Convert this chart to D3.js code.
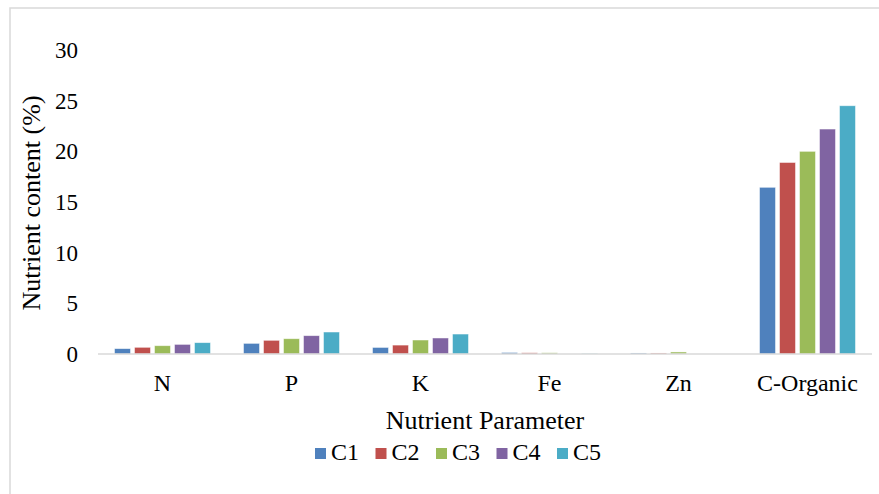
<!DOCTYPE html>
<html>
<head>
<meta charset="utf-8">
<script src="https://cdn.jsdelivr.net/npm/d3@7"></script>
</head>
<body style="margin:0">
<svg id="chart" width="879" height="494"></svg>
<script>
// DATA ----------------------------------------
const categories = ['N', 'P', 'K', 'Fe', 'Zn', 'C-Organic'];
const series = ['C1', 'C2', 'C3', 'C4', 'C5'];
const colors = ['#4F81BD', '#C0504D', '#9BBB59', '#8064A2', '#4BACC6'];
const c1 = [0.53, 1.05, 0.65, 0.15, 0.10, 16.45];
const c2 = [0.66, 1.35, 0.88, 0.12, 0.10, 18.9];
const c3 = [0.82, 1.51, 1.38, 0.12, 0.20, 20.0];
const c4 = [0.95, 1.81, 1.58, 0.00, 0.00, 22.2];
const c5 = [1.12, 2.17, 1.97, 0.05, 0.00, 24.5];
const yTicks = [0, 5, 10, 15, 20, 25, 30];

const values = [c1, c2, c3, c4, c5];
const data = categories.map((c, i) => ({
	name: c,
	vals: series.map((s, j) => ({key: s, value: values[j][i], color: colors[j]}))
}));

const FONT = '"Liberation Serif"';

// CHART INIT ----------------------------------------
const W = 879, H = 494;
const margin = ({top: 50, right: 7, bottom: 140, left: 98});
const width = W - margin.left - margin.right;
const height = H - margin.top - margin.bottom;

const svg = d3.select('#chart');

// outer chart frame (runs off the right and bottom edges)
svg.append('rect')
	.attr('x', 10).attr('y', 8)
	.attr('width', W + 20).attr('height', H + 20)
	.attr('fill', 'none')
	.attr('stroke', '#d9d9d9')
	.attr('stroke-width', 1.5);

const g = svg.append('g')
	.attr('transform', `translate(${margin.left},${margin.top})`);

const x0 = d3.scaleBand()
	.domain(categories)
	.range([0, width])
	.paddingInner(0.256)
	.paddingOuter(0.128);

const x1 = d3.scaleBand()
	.domain(series)
	.range([0, x0.bandwidth()])
	.paddingInner(0.2);

const y = d3.scaleLinear()
	.domain([0, 30])
	.range([height, 0]);

// bars
const groups = g.selectAll('.group')
	.data(data)
	.enter().append('g')
	.attr('class', 'group')
	.attr('transform', d => `translate(${x0(d.name)},0)`);

groups.selectAll('rect')
	.data(d => d.vals)
	.enter().append('rect')
	.attr('x', d => x1(d.key))
	.attr('y', d => y(d.value))
	.attr('width', x1.bandwidth())
	.attr('height', d => height - y(d.value))
	.attr('fill', d => d.color)
	.attr('stroke', '#fff')
	.attr('stroke-opacity', 0.6)
	.attr('stroke-width', 0.8);

// y axis (labels only)
const yAxis = d3.axisLeft(y)
	.tickValues(yTicks)
	.tickSize(0)
	.tickPadding(0);

const ya = g.append('g')
	.attr('class', 'axis y-axis')
	.attr('transform', 'translate(-20,0)')
	.call(yAxis);
ya.select('.domain').remove();
ya.selectAll('text')
	.style('font-family', FONT)
	.style('font-size', '23px')
	.attr('fill', '#000');

// x axis
const xAxis = d3.axisBottom(x0)
	.tickSize(0)
	.tickPadding(20);

const xa = g.append('g')
	.attr('class', 'axis x-axis')
	.attr('transform', `translate(0,${height})`)
	.call(xAxis);
xa.selectAll('.tick line').remove();
xa.select('.domain')
	.attr('stroke', '#d9d9d9')
	.attr('stroke-width', 1.5)
	.attr('d', `M0,0H${width}`);
xa.selectAll('text')
	.style('font-family', FONT)
	.style('font-size', '24px')
	.attr('fill', '#000');

// axis titles
svg.append('text')
	.attr('transform', 'translate(40,203) rotate(-90)')
	.attr('text-anchor', 'middle')
	.style('font-family', FONT)
	.style('font-size', '26px')
	.text('Nutrient content (%)');

svg.append('text')
	.attr('x', 485)
	.attr('y', 429)
	.attr('text-anchor', 'middle')
	.style('font-family', FONT)
	.style('font-size', '26px')
	.text('Nutrient Parameter');

// legend
const legend = svg.append('g')
	.attr('transform', 'translate(315,448)');

const item = legend.selectAll('.item')
	.data(series)
	.enter().append('g')
	.attr('class', 'item')
	.attr('transform', (d, i) => `translate(${i * 60.5},0)`);

item.append('rect')
	.attr('width', 11).attr('height', 11)
	.attr('fill', (d, i) => colors[i]);

item.append('text')
	.attr('x', 16)
	.attr('y', 12)
	.style('font-family', FONT)
	.style('font-size', '24px')
	.text(d => d);
</script>
</body>
</html>
